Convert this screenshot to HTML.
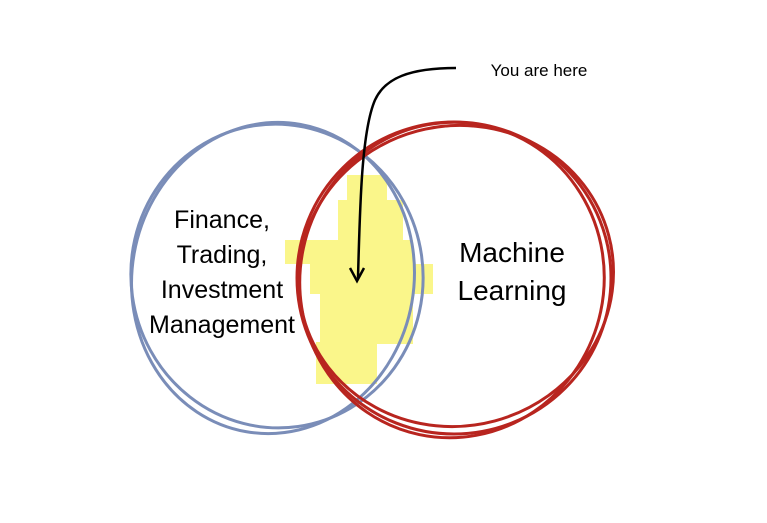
<!DOCTYPE html>
<html><head><style>body{margin:0;background:#fff}svg{display:block}</style></head>
<body>
<svg width="767" height="523" viewBox="0 0 767 523" xmlns="http://www.w3.org/2000/svg">
<rect width="767" height="523" fill="#fff"/>
<g fill="#faf68a">
<rect x="347" y="175" width="40" height="28"/>
<rect x="338" y="200" width="65" height="43"/>
<rect x="285" y="240" width="128" height="24"/>
<rect x="310" y="264" width="123" height="30"/>
<rect x="320" y="292" width="93" height="52"/>
<rect x="316" y="342" width="61" height="42"/>
</g>
<g fill="none" stroke="#7a8db8" stroke-width="3">
<ellipse cx="277" cy="276" rx="146" ry="152" transform="rotate(-8 277 276)"/>
<ellipse cx="273" cy="278" rx="141" ry="156" transform="rotate(10 273 278)"/>
</g>
<g fill="none" stroke="#b8251f" stroke-width="3">
<ellipse cx="454" cy="278" rx="157" ry="156"/>
<ellipse cx="452" cy="280" rx="152" ry="158" transform="rotate(12 452 280)"/>
<ellipse cx="456" cy="276" rx="158" ry="150" transform="rotate(-15 456 276)"/>
</g>
<path d="M456 68 C410 68 385 78 375 100 C362 130 360 200 358 278" fill="none" stroke="#000" stroke-width="2.5"/>
<path d="M350 268 L357 281 L364 268" fill="none" stroke="#000" stroke-width="2.5"/>
<g font-family="Liberation Sans, sans-serif" fill="#000" text-anchor="middle">
<text x="222" y="228" font-size="25">Finance,</text>
<text x="222" y="263" font-size="25">Trading,</text>
<text x="222" y="298" font-size="25">Investment</text>
<text x="222" y="333" font-size="25">Management</text>
<text x="512" y="262" font-size="28">Machine</text>
<text x="512" y="300" font-size="28">Learning</text>
<text x="539" y="76" font-size="17">You are here</text>
</g>
</svg>
</body></html>
